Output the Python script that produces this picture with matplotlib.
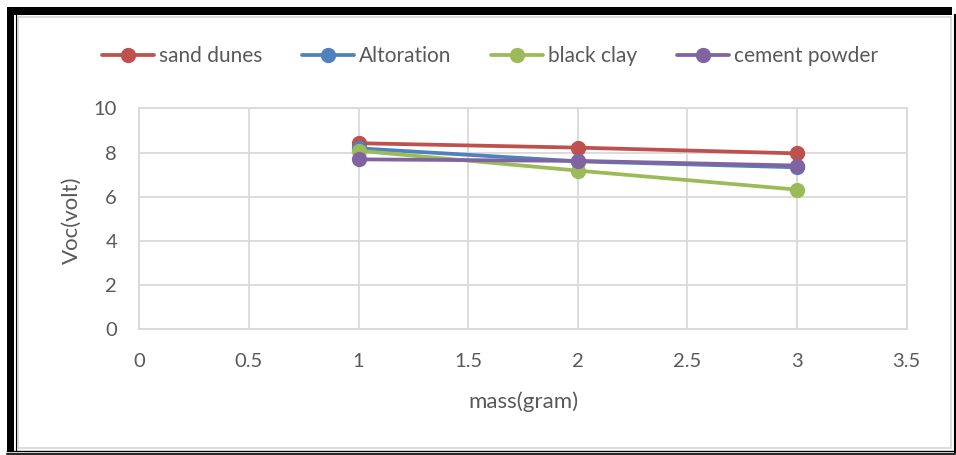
import matplotlib
matplotlib.use("Agg")
import matplotlib.pyplot as plt
from matplotlib.patches import Rectangle
from matplotlib.lines import Line2D

plt.rcParams['font.family'] = ['Lato', 'DejaVu Sans']

mass = [1, 2, 3]
sand_dunes = [8.42, 8.22, 7.96]
altoration = [8.19, 7.60, 7.33]
black_clay = [8.08, 7.18, 6.32]
cement_powder = [7.69, 7.62, 7.41]

series_names = ["sand dunes", "Altoration", "black clay", "cement powder"]
colors = ["#C0504D", "#4F81BD", "#9BBB59", "#8064A2"]

x_ticks = [0, 0.5, 1, 1.5, 2, 2.5, 3, 3.5]
x_tick_labels = ["0", "0.5", "1", "1.5", "2", "2.5", "3", "3.5"]
y_ticks = [0, 2, 4, 6, 8, 10]

W, H = 956, 455
fig = plt.figure(figsize=(W / 100, H / 100), dpi=100)

def fx(px):
    return px / W

def fy(py):
    return 1 - py / H

ax = fig.add_axes([fx(139.3), fy(329.3), fx(906.7) - fx(139.3), fy(108.3) - fy(329.3)])

for vals, name, c in zip([sand_dunes, altoration, black_clay, cement_powder], series_names, colors):
    ax.plot(mass, vals, color=c, lw=2.7, marker='o', markersize=10, label=name,
            solid_capstyle='round', zorder=3)

ax.set_xlim(0, 3.5)
ax.set_ylim(0, 10)
ax.set_xticks(x_ticks)
ax.set_xticklabels(x_tick_labels)
ax.set_yticks(y_ticks)
ax.grid(True, color="#D9D9D9", lw=1.3, zorder=0)
for s in ax.spines.values():
    s.set_color("#D9D9D9")
    s.set_linewidth(1.3)
ax.tick_params(length=0, colors="#595959", labelsize=14.5)
ax.tick_params(axis='x', pad=17)
ax.tick_params(axis='y', pad=16)

fig.text(fx(523), fy(402), "mass(gram)", fontsize=16, color="#595959", ha='center', va='center')
fig.text(fx(72), fy(220), "Voc(volt)", fontsize=16, color="#595959", ha='center', va='center',
         rotation=90)

leg = fig.legend(loc='center', bbox_to_anchor=(fx(490), fy(56)), ncol=4, frameon=False,
                 fontsize=15, labelcolor="#595959", handlelength=2.5, handletextpad=0.25,
                 columnspacing=1.9)

# frame decorations
k = 'black'
fig.add_artist(Rectangle((fx(7), fy(15)), fx(952) - fx(7), fy(7) - fy(15), transform=fig.transFigure,
                         facecolor=k, edgecolor='none'))
fig.add_artist(Rectangle((fx(7), fy(451)), fx(14) - fx(7), fy(7) - fy(451), transform=fig.transFigure,
                         facecolor=k, edgecolor='none'))
fig.add_artist(Line2D([fx(15.5), fx(15.5)], [fy(15), fy(450)], transform=fig.transFigure, color=k, lw=0.8))
fig.add_artist(Line2D([fx(954.5), fx(954.5)], [fy(15), fy(452)], transform=fig.transFigure, color=k, lw=1.5))
fig.add_artist(Line2D([fx(7), fx(955)], [fy(451), fy(451)], transform=fig.transFigure, color=k, lw=1.0))
fig.add_artist(Line2D([fx(7), fx(955)], [fy(454), fy(454)], transform=fig.transFigure, color=k, lw=1.2))
# inner grey chart border
fig.add_artist(Rectangle((fx(17.5), fy(448)), fx(951) - fx(17.5), fy(17.5) - fy(448), transform=fig.transFigure,
                         facecolor='none', edgecolor="#D9D9D9", lw=1.3))

fig.savefig("out.png", dpi=100)
